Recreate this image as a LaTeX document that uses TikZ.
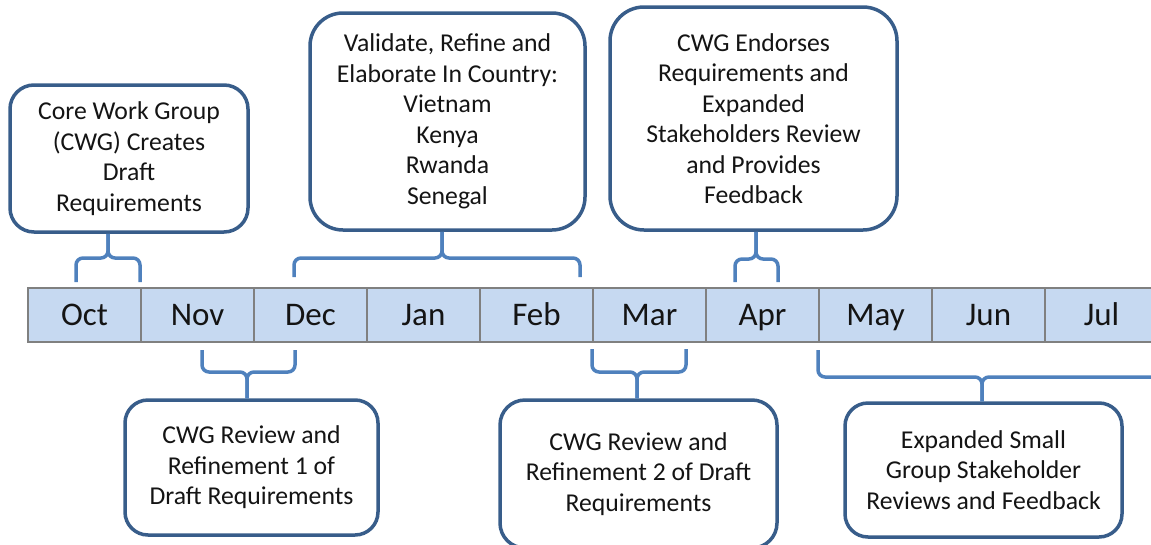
\documentclass[tikz,border=0pt]{standalone}
\usepackage{fontspec}
\setmainfont{Carlito}
\definecolor{boxline}{RGB}{56,93,138}
\definecolor{brace}{RGB}{79,129,189}
\definecolor{barfill}{RGB}{198,217,241}
\definecolor{bargray}{RGB}{128,128,128}
\definecolor{txt}{RGB}{20,20,20}
\begin{document}
\begin{tikzpicture}[x=1pt,y=-1pt,
  stepbox/.style={draw=boxline,line width=3.5pt,fill=white,align=center,inner sep=0pt,
    text=txt,font=\fontsize{25.7}{30.5}\selectfont},
  month/.style={draw=bargray,line width=1.5pt,fill=barfill,minimum width=113pt,minimum height=54pt,
    inner sep=0pt,text height=21pt,text depth=0pt,text=txt,font=\fontsize{33}{38}\selectfont},
  bracketline/.style={draw=brace,line width=3.5pt,rounded corners=7pt}]
\useasboundingbox (0,0) rectangle (1151,544);
% timeline
\foreach \m [count=\i] in {Oct,Nov,Dec,Jan,Feb,Mar,Apr,May,Jun,Jul}{
  \node[month] (m\i) at ({28+113*(\i-1)+56.5},315) {\m};
}
% boxes
\node[stepbox,rounded corners=24pt,minimum width=238pt,minimum height=147pt] (b1) at (129,158.5)
  {Core Work Group\\(CWG) Creates\\Draft\\Requirements};
\node[stepbox,rounded corners=33pt,minimum width=275pt,minimum height=217pt] (b2) at (447.5,121.5)
  {Validate, Refine and\\Elaborate In Country:\\Vietnam\\Kenya\\Rwanda\\Senegal};
\node[stepbox,rounded corners=34pt,minimum width=287pt,minimum height=223pt] (b3) at (753.5,118.5)
  {CWG Endorses\\Requirements and\\Expanded\\Stakeholders Review\\and Provides\\Feedback};
\node[stepbox,rounded corners=23pt,minimum width=253pt,minimum height=135pt] (b4) at (251.5,467.5)
  {CWG Review and\\Refinement 1 of\\Draft Requirements};
\node[stepbox,rounded corners=25pt,minimum width=277pt,minimum height=148pt] (b5) at (638.5,474)
  {CWG Review and\\Refinement 2 of Draft\\Requirements};
\node[stepbox,rounded corners=23pt,minimum width=277pt,minimum height=134pt] (b6) at (983.5,470)
  {Expanded Small\\Group Stakeholder\\Reviews and Feedback};
% brackets above
\coordinate (a1) at (76,282); \coordinate (a2) at (140,282);
\draw[bracketline] (a1) -- (76,258) -- (108,258) -- (108,0 |- b1.south);
\draw[bracketline] (a2) -- (140,258) -- (108,258) -- (108,0 |- b1.south);
\coordinate (c1) at (294,277); \coordinate (c2) at (580,277);
\draw[bracketline] (c1) -- (294,258) -- (442,258) -- (442,0 |- b2.south);
\draw[bracketline] (c2) -- (580,258) -- (442,258) -- (442,0 |- b2.south);
\coordinate (d1) at (735,282); \coordinate (d2) at (778,282);
\draw[bracketline] (d1) -- (735,259) -- (756,259) -- (756,0 |- b3.south);
\draw[bracketline] (d2) -- (778,259) -- (756,259) -- (756,0 |- b3.south);
% brackets below
\coordinate (e1) at (202,350); \coordinate (e2) at (295,350);
\draw[bracketline] (e1) -- (202,372) -- (247,372) -- (247,0 |- b4.north);
\draw[bracketline] (e2) -- (295,372) -- (247,372) -- (247,0 |- b4.north);
\coordinate (f1) at (592,349); \coordinate (f2) at (686,349);
\draw[bracketline] (f1) -- (592,372) -- (637,372) -- (637,0 |- b5.north);
\draw[bracketline] (f2) -- (686,372) -- (637,372) -- (637,0 |- b5.north);
\coordinate (g1) at (818,350); \coordinate (g2) at (1170,377);
\draw[bracketline] (g1) -- (818,377) -- (982,377) -- (982,0 |- b6.north);
\draw[bracketline] (g2) -- (982,377) -- (982,0 |- b6.north);
\end{tikzpicture}
\end{document}
